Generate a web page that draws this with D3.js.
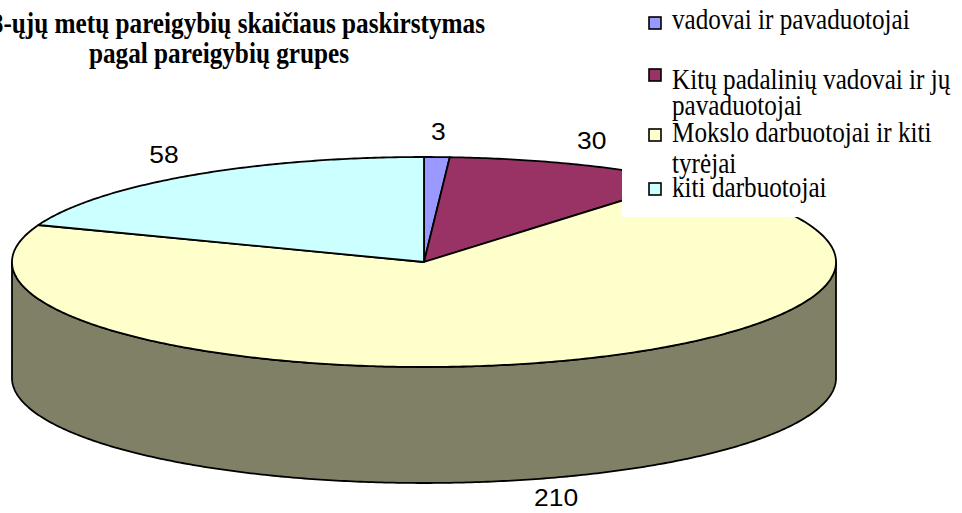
<!DOCTYPE html>
<html>
<head>
<meta charset="utf-8">
<script src="https://cdn.jsdelivr.net/npm/d3@7"></script>
<style>
  body { margin: 0; background: #fff; }
  svg { display: block; }
</style>
</head>
<body>
<svg id="chart" width="962" height="513"></svg>
<script>
const categories = [
  "vadovai ir pavaduotojai",
  "Kitų padalinių vadovai ir jų pavaduotojai",
  "Mokslo darbuotojai ir kiti tyrėjai",
  "kiti darbuotojai"
];
const values = [3, 30, 210, 58];
const colors = ["#9999FF", "#993366", "#FFFFCC", "#CCFFFF"];
const legendLines = [
  ["vadovai ir pavaduotojai"],
  ["Kitų padalinių vadovai ir jų", "pavaduotojai"],
  ["Mokslo darbuotojai ir kiti", "tyrėjai"],
  ["kiti darbuotojai"]
];
const titleLines = [
  "2008-ųjų metų pareigybių skaičiaus paskirstymas",
  "pagal pareigybių grupes"
];

const svg = d3.select("#chart");

// pie geometry (elliptical top + side wall)
const cx = 424, cy = 262, rx = 412, ry = 105, depth = 116;

const data = categories.map((c, i) => ({ name: c, value: values[i], color: colors[i] }));
const pie = d3.pie().sort(null).value(d => d.value);
const arcs = pie(data);

const px = a => cx + rx * Math.sin(a);
const py = a => cy - ry * Math.cos(a);
const sample = (a0, a1) => {
  const n = Math.max(2, Math.ceil((a1 - a0) / 0.01));
  return d3.range(n + 1).map(k => a0 + (a1 - a0) * k / n);
};
const line = d3.line();
const darker = c => { const r = d3.rgb(c); return d3.rgb(r.r / 2, r.g / 2, r.b / 2).formatHex(); };

const g = svg.append("g");

// side walls, only the front half is visible
arcs.forEach(a => {
  const s0 = Math.max(a.startAngle, Math.PI / 2);
  const s1 = Math.min(a.endAngle, 3 * Math.PI / 2);
  if (s0 >= s1) return;
  const top = sample(s0, s1).map(t => [px(t), py(t)]);
  const bottom = sample(s0, s1).reverse().map(t => [px(t), py(t) + depth]);
  g.append("path")
    .attr("d", line(top.concat(bottom)) + "Z")
    .attr("fill", darker(a.data.color))
    .attr("stroke", "#000")
    .attr("stroke-width", 1.8)
    .attr("stroke-linejoin", "round");
});

// top faces
arcs.forEach(a => {
  const pts = [[cx, cy]].concat(sample(a.startAngle, a.endAngle).map(t => [px(t), py(t)]));
  g.append("path")
    .attr("d", line(pts) + "Z")
    .attr("fill", a.data.color)
    .attr("stroke", "#000")
    .attr("stroke-width", 1.8)
    .attr("stroke-linejoin", "round");
});

// value labels
arcs.forEach(a => {
  const m = (a.startAngle + a.endAngle) / 2;
  const front = Math.cos(m) < 0;
  const lx = cx + (rx + (front ? 100 : 45)) * Math.sin(m);
  let ly = cy - (ry + 25) * Math.cos(m);
  if (front) ly += depth - 6;
  g.append("text")
    .attr("transform", `translate(${lx},${ly}) scale(1.15,1)`)
    .attr("text-anchor", "middle")
    .attr("dy", "0.36em")
    .attr("font-family", "Liberation Sans, Arial, sans-serif")
    .attr("font-size", 23)
    .text(a.data.value);
});

// legend
const legend = svg.append("g");
legend.append("rect")
  .attr("x", 622).attr("y", 0)
  .attr("width", 340).attr("height", 217)
  .attr("fill", "#fff");

const baselines = [[29], [89, 115], [142, 173], [197]];
const boxTops = [17, 69, 129, 183];

data.forEach((d, i) => {
  legend.append("rect")
    .attr("x", 649).attr("y", boxTops[i])
    .attr("width", 12).attr("height", 12)
    .attr("fill", d.color)
    .attr("stroke", "#000")
    .attr("stroke-width", 1.6);
  legendLines[i].forEach((t, j) => {
    legend.append("text")
      .attr("transform", `translate(672,${baselines[i][j]}) scale(0.84,1)`)
      .attr("font-family", "Liberation Serif, Times New Roman, serif")
      .attr("font-size", 30)
      .attr("fill", "#000")
      .text(t);
  });
});

// title
titleLines.forEach((t, i) => {
  svg.append("text")
    .attr("transform", `translate(219,${33 + i * 30}) scale(0.87,1)`)
    .attr("text-anchor", "middle")
    .attr("font-family", "Liberation Serif, Times New Roman, serif")
    .attr("font-weight", "bold")
    .attr("font-size", 29)
    .text(t);
});
</script>
</body>
</html>
